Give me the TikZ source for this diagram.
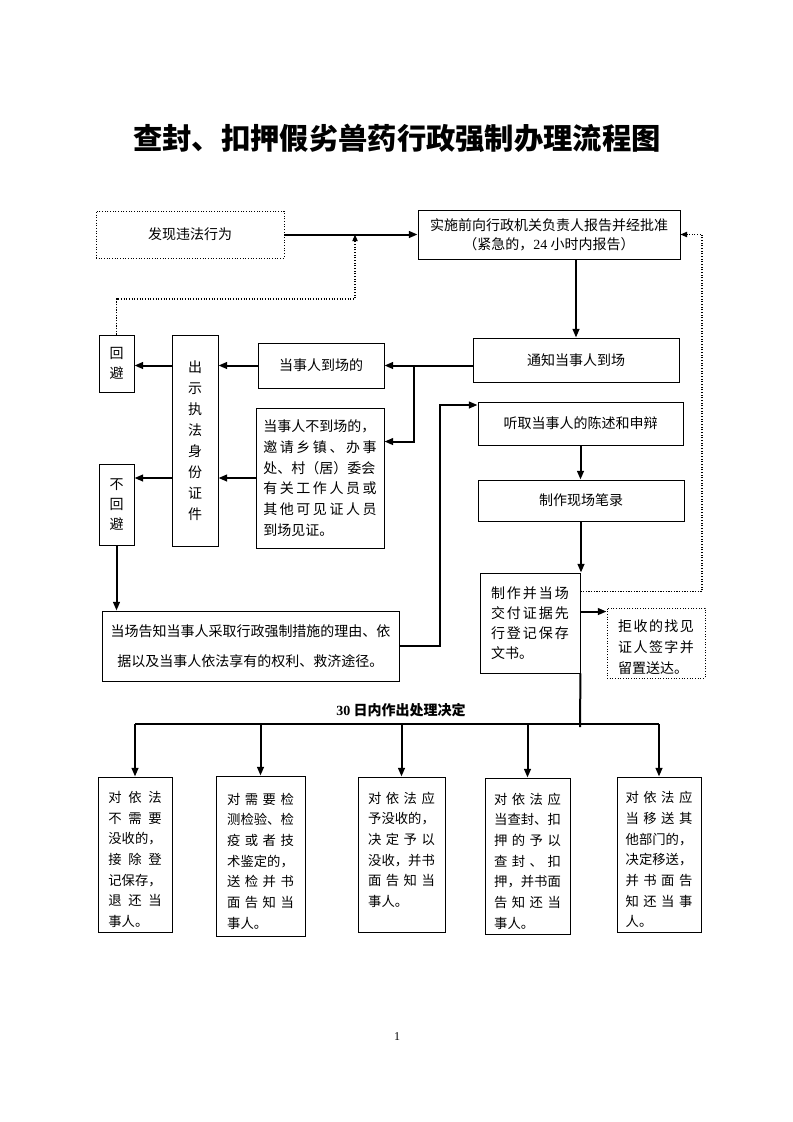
\documentclass[tikz,border=0pt]{standalone}
\usepackage{fontspec}
\setmainfont{Liberation Serif}
\newfontfamily\cjk{Noto Sans CJK SC}
\usetikzlibrary{arrows.meta}
\newcommand{\spreadline}[1]{\makebox[\hsize][s]{\spaceskip=0pt plus 1fil\relax#1}}
\begin{document}
\begin{tikzpicture}[x=0.75pt,y=-0.75pt,
    wh/.style 2 args={minimum width=#1*0.75pt,minimum height=#2*0.75pt},
    box/.style={draw,line width=0.7pt,inner sep=0pt,align=center,
      font=\cjk\fontsize{10.5}{15.5}\selectfont},
    dotbox/.style={box,dash pattern=on 0.8pt off 1.2pt},
    bbox/.style={box,align=left,text width=#1,
      font=\cjk\fontsize{10}{15.5}\selectfont,
      execute at begin node={\rule{0pt}{16pt}}},
    flow/.style={line width=1.5pt,-{Triangle[length=6.5pt,width=5pt]}},
    dotflow/.style={line width=0.8pt,dash pattern=on 0.8pt off 1.2pt,
      -{Triangle[length=5pt,width=4pt]}},
    bar/.style={line width=1.5pt}]
  \useasboundingbox[fill=white] (0,0) rectangle (793,1122);

  % title
  \node[font=\cjk\bfseries\fontsize{22}{26}\selectfont] (title) at (397,138)
    {查封、扣押假劣兽药行政强制办理流程图};

  % top row
  \node[dotbox, wh={188}{47}] (find) at (190,234.5) {发现违法行为};
  \node[box, wh={262}{49}, font=\cjk\fontsize{10.5}{14.5}\selectfont] (report) at (549,234.5)
    {实施前向行政机关负责人报告并经批准\\（紧急的，{\rmfamily 24} 小时内报告）};

  % notice and identity
  \node[box, wh={206}{44}] (notify) at (576,360) {通知当事人到场};
  \node[box, wh={126}{45}] (present) at (321,365.5) {当事人到场的};
  \node[box, wh={128}{140}, align=left, text width=85pt] (absent) at (320,478)
    {当事人不到场的，\\ \spreadline{邀 请 乡 镇 、 办 事}\\ 处、村（居）委会\\
     \spreadline{有 关 工 作 人 员 或}\\ \spreadline{其 他 可 见 证 人 员}\\ 到场见证。};
  \node[box, wh={46}{211}, font=\cjk\fontsize{10.5}{15.75}\selectfont] (idcard) at (195,440.5)
    {出\\示\\执\\法\\身\\份\\证\\件};
  \node[box, wh={35}{57}, font=\cjk\fontsize{10.5}{15}\selectfont] (avoid) at (116.5,363.5) {回\\避};
  \node[box, wh={35}{81}, font=\cjk\fontsize{10.5}{15}\selectfont] (noavoid) at (116.5,504.5) {不\\回\\避};
  \node[box, wh={297}{70}, font=\cjk\fontsize{10.5}{22.5}\selectfont] (inform) at (250.5,646)
    {当场告知当事人采取行政强制措施的理由、依\\据以及当事人依法享有的权利、救济途径。};

  % right column
  \node[box, wh={205}{43}] (hear) at (580.5,423.5) {听取当事人的陈述和申辩};
  \node[box, wh={206}{41}] (record) at (581,500.5) {制作现场笔录};
  \node[box, wh={100}{100}, align=left, text width=58.5pt,
    font=\cjk\fontsize{10.5}{15}\selectfont] (deliver) at (530,623)
    {\spreadline{制 作 并 当 场}\\ \spreadline{交 付 证 据 先}\\ \spreadline{行 登 记 保 存}\\ 文书。};
  \node[dotbox, wh={98}{70}, align=left, text width=57pt,
    font=\cjk\fontsize{10.5}{15.75}\selectfont] (refuse) at (656,643)
    {\rule{0pt}{15pt}\spreadline{拒 收 的 找 见}\\ \spreadline{证 人 签 字 并}\\ 留置送达。};

  % decisions
  \node[font=\cjk\bfseries\fontsize{10.5}{12}\selectfont] (decide) at (401,710)
    {{\rmfamily\bfseries 30} 日内作出处理决定};
  \node[bbox=40pt, wh={74}{155}] (k1) at (135,854.5)
    {\spreadline{对 依 法}\\ \spreadline{不 需 要}\\ 没收的，\\ \spreadline{接 除 登}\\
     记保存，\\ \spreadline{退 还 当}\\ 事人。};
  \node[bbox=50pt, wh={89}{160}] (k2) at (260.5,856)
    {\spreadline{对 需 要 检}\\ 测检验、检\\ \spreadline{疫 或 者 技}\\ 术鉴定的，\\
     \spreadline{送 检 并 书}\\ \spreadline{面 告 知 当}\\ 事人。};
  \node[bbox=50pt, wh={87}{155}] (k3) at (401.5,854.5)
    {\spreadline{对 依 法 应}\\ 予没收的，\\ \spreadline{决 定 予 以}\\ 没收，并书\\
     \spreadline{面 告 知 当}\\ 事人。\\ \mbox{}};
  \node[bbox=50pt, wh={85}{156}] (k4) at (527.5,856)
    {\spreadline{对 依 法 应}\\ 当查封、扣\\ \spreadline{押 的 予 以}\\ \spreadline{查 封 、 扣}\\
     押，并书面\\ \spreadline{告 知 还 当}\\ 事人。};
  \node[bbox=50pt, wh={84}{155}] (k5) at (659,854.5)
    {\spreadline{对 依 法 应}\\ \spreadline{当 移 送 其}\\ 他部门的，\\ 决定移送，\\
     \spreadline{并 书 面 告}\\ \spreadline{知 还 当 事}\\ 人。};

  \node[font=\rmfamily\fontsize{9}{10}\selectfont] (pageno) at (397,1037) {1};

  % turning points
  \coordinate (loopA) at (355,299);
  \coordinate (split) at (414,364);
  \coordinate (riser) at (440,405);
  \coordinate (loopB) at (702,592);
  \coordinate (bus) at (580,724);
  \coordinate (handout) at ([yshift=-29.25pt]deliver.north east);
  \coordinate (dotout) at ([yshift=-14.25pt]deliver.north east);

  \begin{scope}[flow]
    \draw (find.east) -- (find.east -| report.west);
    \draw (notify.north |- report.south) -- (notify.north);
    \draw (present.east -| notify.west) -- (present.east);
    \draw (split |- present.east) |- ([yshift=-25.5pt]absent.north east);
    \draw (present.west) -- (present.west -| idcard.east);
    \draw (absent.west) -- (absent.west -| idcard.east);
    \draw (present.west -| idcard.west) -- (present.west -| avoid.east);
    \draw (absent.west -| idcard.west) -- (absent.west -| noavoid.east);
    \draw (noavoid.south) -- (noavoid.south |- inform.north);
    \draw (inform.east) -| (riser) -- (riser -| hear.west);
    \draw (hear.south) -- (hear.south |- record.north);
    \draw (record.south) -- (record.south |- deliver.north);
    \draw (handout) -- (handout -| refuse.west);
    \foreach \k in {k1,k2,k3,k4,k5}
      \draw (bus -| \k.north) -- (\k.north);
  \end{scope}

  \begin{scope}[dotflow]
    \draw (avoid.north) |- (loopA) -- (loopA |- find.east);
    \draw (dotout) -| (loopB |- report.east) -- (report.east);
  \end{scope}

  \draw[bar] (bus -| k1.north) -- (bus -| k5.north);
  \draw[bar] (deliver.south east) -- ([yshift=-2.25pt]bus);
\end{tikzpicture}
\end{document}
